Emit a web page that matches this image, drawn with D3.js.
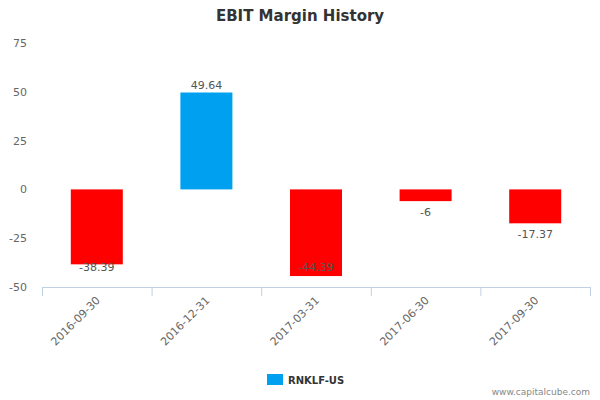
<!DOCTYPE html><html><head><meta charset="utf-8"><script src="https://cdn.jsdelivr.net/npm/d3@7"></script>
<style>body{margin:0}text{font-family:"DejaVu Sans",sans-serif}</style></head><body><svg width="600" height="400"></svg><script>
const categories=["2016-09-30","2016-12-31","2017-03-31","2017-06-30","2017-09-30"];
const values=[-38.39,49.64,-44.39,-6,-17.37];
const yTicks=[-50,-25,0,25,50,75];
const svg=d3.select("svg");
const L=42,R=590,T=43,B=287;
const x=d3.scaleBand().domain(categories).range([L,R]).paddingInner(0).paddingOuter(0);
const y=d3.scaleLinear().domain([-50,75]).range([B,T]);
svg.append("text").attr("x",300).attr("y",21).attr("text-anchor","middle").attr("font-size",15).attr("font-weight","bold").attr("fill","#333").text("EBIT Margin History");
yTicks.forEach(t=>svg.append("text").attr("x",27).attr("y",y(t)+4).attr("text-anchor","end").attr("font-size",11).attr("fill","#666").text(t));
const bw=52;
values.forEach((v,i)=>{
 const cx=x(categories[i])+x.bandwidth()/2;
 svg.append("rect").attr("x",cx-bw/2).attr("width",bw).attr("y",y(Math.max(0,v))).attr("height",Math.abs(y(v)-y(0))).attr("fill",v<0?"#ff0000":"#00a0f0");
 const ly=v<0?Math.min(y(v)+15,B-16):y(v)-4;
 svg.append("text").attr("x",cx).attr("y",ly).attr("text-anchor","middle").attr("font-size",11).attr("fill","#555").text(v);
});
svg.append("line").attr("x1",L).attr("x2",R).attr("y1",B+0.5).attr("y2",B+0.5).attr("stroke","#c0d0e0");
const edges=categories.map(c=>x(c)).concat([R]);
edges.forEach(e=>svg.append("line").attr("x1",e+0.5).attr("x2",e+0.5).attr("y1",B).attr("y2",B+9).attr("stroke","#c0d0e0"));
categories.forEach(c=>{
 const cx=x(c)+x.bandwidth()/2;
 svg.append("text").attr("transform",`translate(${cx+4},${B+14}) rotate(-45)`).attr("text-anchor","end").attr("font-size",11).attr("fill","#666").text(c);
});
svg.append("rect").attr("x",267).attr("y",374).attr("width",16).attr("height",11).attr("fill","#00a0f0");
svg.append("text").attr("x",288).attr("y",384).attr("font-size",10).attr("font-weight","bold").attr("fill","#333").text("RNKLF-US");
svg.append("text").attr("x",590).attr("y",395).attr("text-anchor","end").attr("font-size",9).attr("fill","#888").text("www.capitalcube.com");
</script></body></html>
